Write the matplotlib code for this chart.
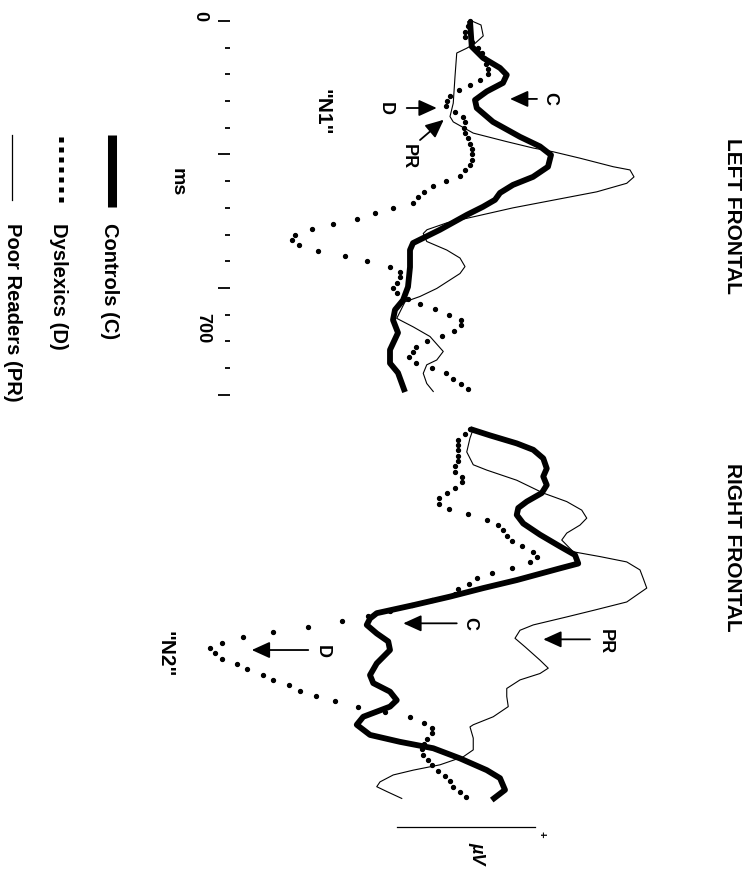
import numpy as np
import matplotlib.pyplot as plt

plt.rcParams['font.family'] = ['Liberation Sans', 'DejaVu Sans']

# time (ms) and amplitude (uV, positive to the right)
# LEFT FRONTAL
lc_t = [0, 48, 69, 88, 101, 116, 132, 148, 163, 189, 217, 235, 251, 273, 292, 307, 322, 335, 348,
        363, 391, 416, 429, 461, 498, 523, 541, 560, 584, 616, 641, 659, 695]
lc_a = [0, 0.07, 0.52, 1.2, 1.47, 1.32, 0.67, 0.2, 0.27, 0.92, 2.0, 2.8, 3.24, 3.12, 2.52, 1.72, 1.2,
        1.0, 0.52, -0.12, -1.2, -2.28, -2.4, -2.4, -2.48, -2.68, -3.0, -3.08, -2.88, -3.2, -3.2, -2.88, -2.6]

lp_t = [0, 7.5, 28, 42, 51, 60, 104, 154, 179, 189, 210, 226, 238, 245, 257, 273, 279, 292, 304, 320,
        332, 350, 367, 378, 391, 398, 413, 429, 444, 460, 473, 501, 516, 526, 557, 573, 591, 619, 635,
        644, 660, 679, 694]
lp_a = [0.07, 0.44, 0.53, 0.2, -0.13, -0.53, -0.6, -0.67, -0.8, -0.67, 0.13, 1.47, 2.53, 3.33, 4.4,
        5.73, 6.4, 6.56, 6.27, 5.07, 3.73, 1.72, 0.12, -0.92, -1.72, -1.87, -1.73, -0.93, -0.4, -0.2,
        -0.4, -1.33, -2.0, -2.6, -2.93, -2.27, -1.6, -1.07, -1.33, -1.73, -1.87, -1.73, -1.47]

# dyslexics are plotted as samples every 10 ms
d_t = [0, 10, 20, 30, 40, 50, 60, 70, 80, 90,
       100, 110, 120, 130, 140, 150, 160, 170, 180, 190,
       200, 210, 220, 230, 240, 250, 260, 270, 280, 290,
       300, 310, 320, 330, 340, 350, 360, 370, 380, 390,
       400, 410, 420, 430, 440, 450, 460, 470, 480, 490,
       500, 510, 520, 530, 540, 550, 560, 570, 580, 590,
       600, 610, 620, 630, 640, 650, 660, 670, 680, 690]
ld_a = [0, -0.1, -0.2, -0.2, 0.08, 0.32, 0.48, 0.56, 0.64, 0.72,
        0.72, 0.4, 0, -0.44, -0.8, -0.92, -0.96, -0.6, -0.28, -0.2,
        -0.24, -0.2, -0.08, 0, 0.08, 0.08, 0.08, 0, -0.2, -0.4,
        -0.96, -1.48, -1.84, -2.08, -2.28, -3.08, -3.8, -4.52, -5.48, -6.32,
        -7.0, -7.12, -6.84, -6.08, -5.0, -4.12, -3.2, -2.8, -2.8, -2.92,
        -3.08, -2.92, -2.48, -2.0, -1.4, -0.84, -0.36, -0.36, -0.64, -1.12,
        -1.72, -2.16, -2.28, -2.44, -2.16, -1.52, -0.96, -0.68, -0.36, -0.08]

# RIGHT FRONTAL
rc_t = [0, 12, 27, 39, 55, 74, 89, 105, 120, 136, 148, 161, 177, 198, 220, 236, 252, 261, 283, 298,
        314, 330, 345, 355, 367, 383, 398, 414, 439, 461, 476, 492, 508, 520, 539, 554, 573, 586, 598,
        617, 639, 654, 676, 695]
rc_a = [0, 0.8, 1.87, 2.53, 2.93, 3.07, 2.93, 3.07, 2.87, 2.27, 1.93, 1.87, 2.13, 2.8, 3.6, 4.2, 4.33,
        3.6, 1.87, 0.53, -0.8, -2.27, -3.73, -4.0, -4.13, -3.73, -3.27, -3.2, -3.73, -4.0, -3.87, -3.2,
        -2.93, -3.2, -4.27, -4.53, -4.0, -2.8, -1.47, -0.4, 0.67, 1.2, 1.4, 0.87]

rp_t = [0, 17, 43, 67, 77, 96, 120, 136, 152, 167, 180, 195, 208, 230, 239, 249, 264, 280, 298, 324,
        339, 352, 367, 377, 392, 408, 433, 448, 458, 470, 486, 501, 520, 539, 554, 558, 579, 601, 614,
        629, 639, 648, 661, 670, 679, 692]
rp_a = [0.13, 0.0, -0.13, 0.13, 0.67, 1.87, 2.93, 3.87, 4.47, 4.67, 4.4, 3.87, 3.67, 4.13, 5.2, 6.27,
        6.8, 6.93, 7.07, 6.27, 5.0, 3.87, 2.53, 2.0, 1.8, 2.2, 2.8, 3.13, 2.8, 2.0, 1.47, 1.47, 1.53,
        0.93, 0.13, 0.0, 0.13, 0.13, -0.27, -1.2, -2.27, -3.07, -3.6, -3.73, -3.33, -2.73]

rd_a = [0, -0.2, -0.48, -0.48, -0.48, -0.48, -0.48, -0.6, -0.6, -0.33,
        -0.33, -0.6, -0.93, -1.23, -1.23, -0.83, -0.07, 0.69, 1.13, 1.33,
        1.47, 1.67, 2.07, 2.53, 2.67, 2.4, 1.67, 0.87, 0.27, -0.03,
        -0.47, -0.6, -1.52, -2.32, -3.2, -4.08, -5.12, -6.48, -7.88, -9.08,
        -9.92, -10.4, -10.2, -9.92, -9.32, -8.92, -8.28, -7.88, -7.24, -6.8,
        -6.16, -5.4, -4.48, -3.4, -2.4, -1.84, -1.52, -1.52, -1.72, -1.84,
        -1.92, -1.88, -1.68, -1.52, -1.28, -1.0, -0.8, -0.68, -0.4, -0.16]

major_ticks = [0, 250, 500, 700]
minor_ticks = [50, 100, 150, 200, 300, 350, 400, 450, 550, 600, 650]
scale_bar = [-2.92, 2.6]

fig = plt.figure(figsize=(7.51, 8.71), dpi=100)
axL = fig.add_axes([0, 1 - 408 / 871, 1, 408 / 871])
axR = fig.add_axes([0, 0, 1, 463 / 871])

for ax in (axL, axR):
    ax.set_xlim(-18.8, 11.24)
    ax.set_facecolor('none')
    for s in ax.spines.values():
        s.set_visible(False)
    ax.xaxis.set_visible(False)
axL.set_ylim(724.9, -39.3)
axR.set_ylim(827.9, -39.3)
axR.axis('off')

# time axis (ticks only)
axL.spines['left'].set_position(('data', -9.6))
axL.set_yticks(major_ticks)
axL.set_yticks(minor_ticks, minor=True)
axL.tick_params(axis='y', which='major', direction='out', length=8.6, width=1.3, labelleft=False)
axL.tick_params(axis='y', which='minor', direction='out', length=3.6, width=1.3)

bold = dict(rotation=-90, ha='center', va='center', fontweight='bold', color='k')

def draw_panel(ax, c_t, c_a, p_t, p_a, dd_a):
    ax.plot(p_a, p_t, color='k', lw=0.8)
    ax.plot(dd_a, d_t, ls='none', marker='o', ms=2.8, color='k')
    ax.plot(c_a, c_t, color='k', lw=4.2, solid_joinstyle='round', solid_capstyle='butt')

def arrow(ax, a_tail, t_tail, a_head, t_head):
    ax.annotate('', xy=(a_head, t_head), xytext=(a_tail, t_tail),
                arrowprops=dict(arrowstyle='-|>,head_length=0.55,head_width=0.25', mutation_scale=20,
                                lw=1.3, color='k', shrinkA=0, shrinkB=0))

draw_panel(axL, lc_t, lc_a, lp_t, lp_a, ld_a)
draw_panel(axR, rc_t, rc_a, rp_t, rp_a, rd_a)

# left frontal labels
axL.text(10.48, 365, 'LEFT FRONTAL', fontsize=15, **bold)
axL.text(3.2, 146, 'C', fontsize=13, **bold)
arrow(axL, 2.68, 146, 1.6, 146)
axL.text(-3.4, 163, 'D', fontsize=13, **bold)
arrow(axL, -2.53, 163, -1.33, 163)
axL.text(-2.48, 255, 'PR', fontsize=13, **bold)
arrow(axL, -2.0, 223, -1.05, 185)
axL.text(-5.9, 171, '"N1"', fontsize=15, **bold)
axL.text(-10.8, -9, '0', fontsize=13, **bold)
axL.text(-10.7, 575, '700', fontsize=13, **bold)
axL.text(-11.7, 302, 'ms', fontsize=14, **bold)

# legend
axL.plot([-14.32, -14.32], [213, 348], color='k', lw=6.5, solid_capstyle='butt')
axL.plot([-16.36, -16.36], [217, 340], color='k', lw=3.6, dashes=(1, 1), dash_capstyle='butt')
axL.plot([-18.32, -18.32], [213, 336], color='k', lw=0.9)
leg = dict(rotation=-90, ha='center', va='top', fontweight='bold', fontsize=14.5)
axL.text(-14.44, 378, 'Controls (C)', **leg)
axL.text(-16.44, 378, 'Dyslexics (D)', **leg)
axL.text(-18.3, 378, 'Poor Readers (PR)', **leg)

# right frontal labels
axR.text(10.48, 221, 'RIGHT FRONTAL', fontsize=15, **bold)
axR.text(0.0, 364, 'C', fontsize=13, **bold)
arrow(axR, -0.53, 364, -2.67, 364)
axR.text(5.42, 398, 'PR', fontsize=13, **bold)
arrow(axR, 4.8, 394, 2.93, 394)
axR.text(-5.93, 416, 'D', fontsize=13, **bold)
arrow(axR, -6.47, 414, -8.73, 414)
axR.text(-12.2, 421, '"N2"', fontsize=15, **bold)

# amplitude scale bar
axR.plot(scale_bar, [745, 745], color='k', lw=0.9)
axR.text(2.87, 760, '+', fontsize=8, **bold)
axR.text(0.27, 794, 'µV', fontsize=13, style='italic', **bold)

fig.savefig('out.png', dpi=100, facecolor='white')
